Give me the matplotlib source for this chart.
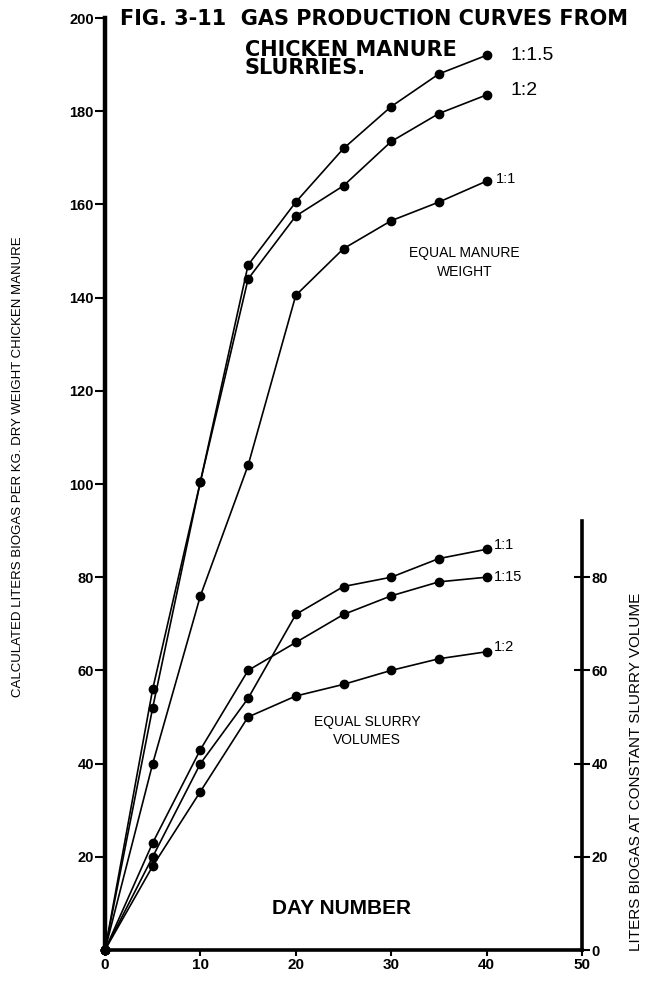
import matplotlib
matplotlib.use("Agg")
import matplotlib.pyplot as plt

# days for every series
days = [0, 5, 10, 15, 20, 25, 30, 35, 40]

# equal manure weight (left scale)
weight_1_15 = [0, 56, 100.5, 147, 160.5, 172, 181, 188, 192]
weight_1_2 = [0, 52, 100.5, 144, 157.5, 164, 173.5, 179.5, 183.5]
weight_1_1 = [0, 40, 76, 104, 140.5, 150.5, 156.5, 160.5, 165]

# equal slurry volumes (right scale)
slurry_1_1 = [0, 20, 40, 54, 72, 78, 80, 84, 86]
slurry_1_15 = [0, 23, 43, 60, 66, 72, 76, 79, 80]
slurry_1_2 = [0, 18, 34, 50, 54.5, 57, 60, 62.5, 64]

x_ticks = [0, 10, 20, 30, 40, 50]
left_ticks = [20, 40, 60, 80, 100, 120, 140, 160, 180, 200]
right_ticks = [0, 20, 40, 60, 80]

plt.rcParams['font.family'] = ['Liberation Sans', 'DejaVu Sans']
NARROW = ['Liberation Sans Narrow', 'Liberation Sans']

fig = plt.figure(figsize=(6.45, 9.93), dpi=100)
ax = fig.add_axes([105/645, 1 - 950/993, 477/645, 932/993])

for ys in [weight_1_15, weight_1_2, weight_1_1, slurry_1_1, slurry_1_15, slurry_1_2]:
    ax.plot(days, ys, color='black', lw=1.2, marker='o', ms=6, clip_on=False)

ax.set_xlim(0, 50)
ax.set_ylim(0, 200)
for s in ['top', 'right']:
    ax.spines[s].set_visible(False)
ax.spines['left'].set_linewidth(3.2)
ax.spines['bottom'].set_linewidth(2.6)

ax.set_xticks(x_ticks)
ax.set_xticklabels([str(v) for v in x_ticks], fontsize=11, fontweight='bold')
ax.set_yticks(left_ticks)
ax.set_yticklabels([str(v) for v in left_ticks], fontsize=10.5, fontweight='bold')
ax.tick_params(axis='y', direction='out', length=7, width=1.5, pad=1)
ax.tick_params(axis='x', direction='out', length=4, width=1.5, pad=2)

# right-hand scale for the slurry curves
ax2 = ax.twinx()
ax2.set_ylim(0, 200)
for s in ['top', 'left', 'bottom']:
    ax2.spines[s].set_visible(False)
ax2.spines['right'].set_linewidth(2.6)
ax2.spines['right'].set_bounds(0, 92)
ax2.set_yticks(right_ticks)
ax2.set_yticklabels([str(v) for v in right_ticks], fontsize=10.5, fontweight='bold')
ax2.tick_params(axis='y', direction='inout', length=12, width=1.5, pad=1)

# title
fig.text(120/645, 1 - 25/993, 'FIG. 3-11  GAS PRODUCTION CURVES FROM',
         fontsize=15, fontweight='bold', family=['DejaVu Sans'])
fig.text(245/645, 1 - 59/993, 'CHICKEN MANURE\nSLURRIES.', fontsize=15,
         fontweight='bold', family=['DejaVu Sans'], va='center',
         linespacing=0.9)

# curve labels
ax.text(42.5, weight_1_15[-1], '1:1.5', fontsize=14, va='center')
ax.text(42.5, weight_1_2[-1] + 1, '1:2', fontsize=14, va='center')
ax.text(41.0, weight_1_1[-1] + 0.5, '1:1', fontsize=10.5, va='center')
ax.text(37.7, 147.5, 'EQUAL MANURE\nWEIGHT', fontsize=10, ha='center', va='center',
        family=NARROW, linespacing=1.45)
ax.text(40.8, slurry_1_1[-1] + 1, '1:1', fontsize=10.5, va='center')
ax.text(40.8, slurry_1_15[-1], '1:15', fontsize=10.5, va='center')
ax.text(40.8, slurry_1_2[-1] + 1, '1:2', fontsize=10.5, va='center')
ax.text(27.5, 47, 'EQUAL SLURRY\nVOLUMES', fontsize=10, ha='center', va='center',
        family=NARROW, linespacing=1.45)
ax.text(24.8, 8.8, 'DAY NUMBER', fontsize=15, fontweight='bold', ha='center',
        va='center', family=NARROW)

# axis titles
fig.text(18/645, 1 - 467/993,
         'CALCULATED LITERS BIOGAS PER KG. DRY WEIGHT CHICKEN MANURE',
         rotation=90, ha='center', va='center', fontsize=9.5)
fig.text(636/645, 1 - 772/993, 'LITERS BIOGAS AT CONSTANT SLURRY VOLUME',
         rotation=90, ha='center', va='center', fontsize=11)

fig.savefig('out.png', dpi=100)
